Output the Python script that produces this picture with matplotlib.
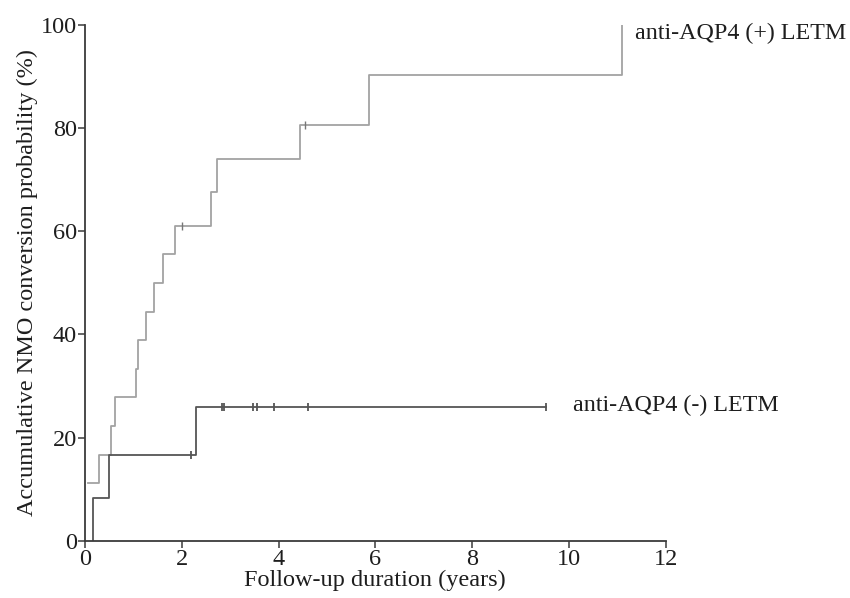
import numpy as np
import matplotlib
matplotlib.use('Agg')
import matplotlib.pyplot as plt

# anti-AQP4 (+) LETM: event times (years) and cumulative probability (%)
pos_times = [0.07, 0.29, 0.53, 0.61, 1.05, 1.10, 1.27, 1.43, 1.62, 1.85, 2.60, 2.72, 4.44, 5.87, 11.09]
pos_values = [11.1, 16.7, 22.2, 27.8, 33.3, 38.9, 44.4, 50.0, 55.6, 61.1, 67.6, 74.1, 80.6, 90.3, 100.0]
pos_censor = [2.00, 4.55]

# anti-AQP4 (-) LETM
neg_times = [0.16, 0.16, 0.50, 2.29]
neg_values = [0.0, 8.3, 16.7, 25.9]
neg_end = 9.52
neg_censor = [2.19, 2.84, 2.88, 3.48, 3.56, 3.91, 4.60, 9.52]

x_ticks = [0, 2, 4, 6, 8, 10, 12]
y_ticks = [0, 20, 40, 60, 80, 100]

POS_COLOR = '#a3a3a3'
NEG_COLOR = '#555555'
AXIS_COLOR = '#3a3a3a'
TEXT_COLOR = '#1e1e1e'


def value_at(times, values, t):
    idx = np.searchsorted(times, t, side='right') - 1
    return values[max(idx, 0)]


plt.rcParams['font.family'] = ['Liberation Serif', 'DejaVu Serif']

fig = plt.figure(figsize=(8.5, 5.98), dpi=100)
ax = fig.add_axes([0.1, 0.0958, 0.683, 0.8624])

ax.step(pos_times, pos_values, where='post', color=POS_COLOR, lw=1.3)
ax.plot(pos_censor, [value_at(pos_times, pos_values, t) for t in pos_censor],
        ls='none', marker='|', ms=6, mew=1.0, color='#777777')

ax.step(neg_times + [neg_end], neg_values + [neg_values[-1]], where='post', color=NEG_COLOR, lw=1.3)
ax.plot(neg_censor, [value_at(neg_times, neg_values, t) for t in neg_censor],
        ls='none', marker='|', ms=6, mew=1.3, color=NEG_COLOR)

ax.text(11.37, 98.4, 'anti-AQP4 (+) LETM', fontsize=17.3, color=TEXT_COLOR, va='center', ha='left',
        clip_on=False)
ax.text(10.08, 26.3, 'anti-AQP4 (-) LETM', fontsize=17.3, color=TEXT_COLOR, va='center', ha='left')

ax.set_xlim(0, 12)
ax.set_ylim(0, 100)
ax.set_xticks(x_ticks)
ax.set_yticks(y_ticks)
ax.tick_params(labelsize=17.5, colors=TEXT_COLOR, length=5, width=1.1, pad=1)
ax.tick_params(axis='both', color=AXIS_COLOR)
for side in ['top', 'right']:
    ax.spines[side].set_visible(False)
for side in ['left', 'bottom']:
    ax.spines[side].set_color(AXIS_COLOR)
    ax.spines[side].set_linewidth(1.3)

ax.set_xlabel('Follow-up duration (years)', fontsize=17.5, color=TEXT_COLOR, labelpad=0)
ax.set_ylabel('Accumulative NMO conversion probability (%)', fontsize=17.5, color=TEXT_COLOR, labelpad=2)

plt.savefig('out.png', dpi=100)
plt.close()
